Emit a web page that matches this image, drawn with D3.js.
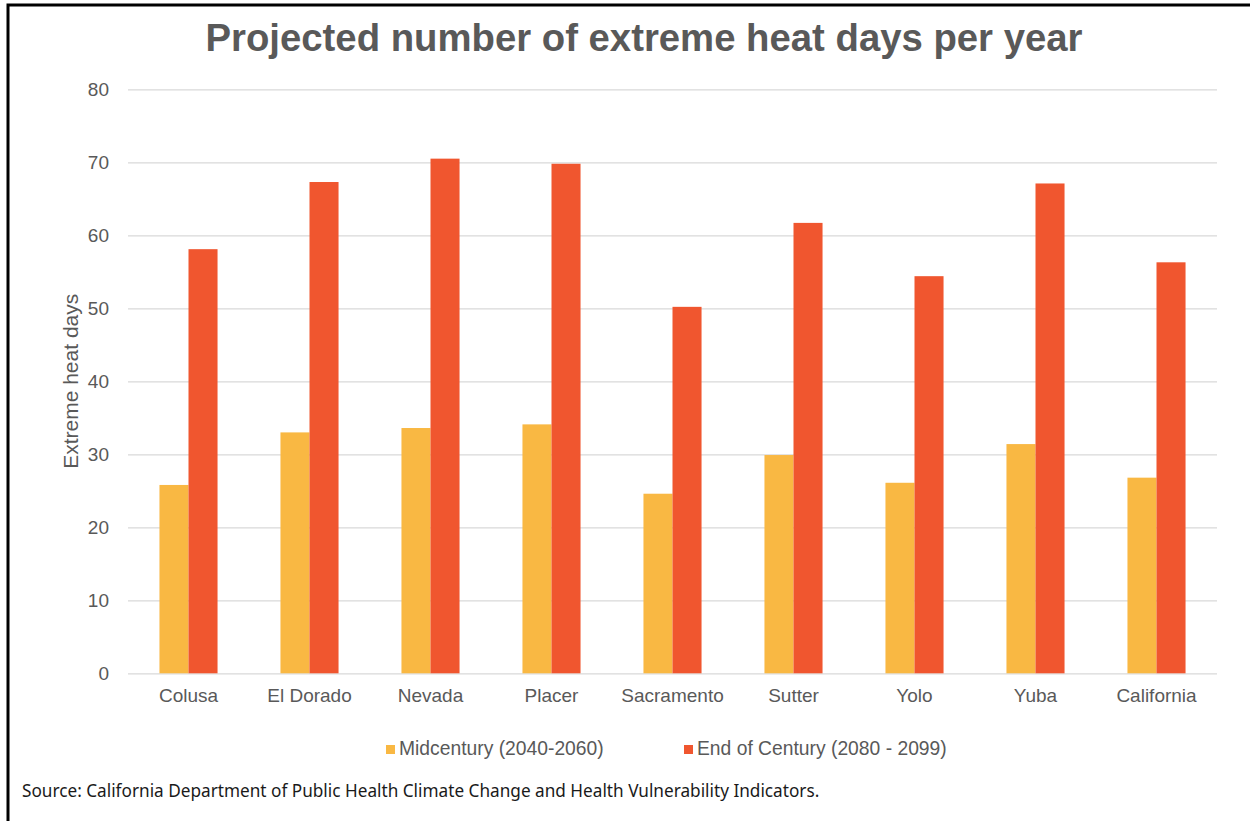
<!DOCTYPE html>
<html>
<head>
<meta charset="utf-8">
<script src="https://cdn.jsdelivr.net/npm/d3@7"></script>
<style>
  html, body { margin: 0; padding: 0; background: #ffffff; }
  svg { display: block; }
</style>
</head>
<body>
<svg id="chart" width="1250" height="821"></svg>
<script>
// Counties and projected extreme heat days
const categories = ["Colusa", "El Dorado", "Nevada", "Placer", "Sacramento", "Sutter", "Yolo", "Yuba", "California"];
const seriesNames = ["Midcentury (2040-2060)", "End of Century (2080 - 2099)"];
const midcentury = [25.8, 33.0, 33.6, 34.1, 24.6, 29.9, 26.1, 31.4, 26.8];
const endOfCentury = [58.1, 67.3, 70.5, 69.8, 50.2, 61.7, 54.4, 67.1, 56.3];
const yTicks = [0, 10, 20, 30, 40, 50, 60, 70, 80];
const colors = ["#F9B843", "#F0562F"];

const titleText = "Projected number of extreme heat days per year";
const yLabel = "Extreme heat days";
const sourceText = "Source: California Department of Public Health Climate Change and Health Vulnerability Indicators.";

const svg = d3.select("#chart");
const textGray = "#595959";
const sans = "'Liberation Sans', Arial, sans-serif";

const plot = { left: 128, right: 1217, top: 89.3, bottom: 673.3 };

const x = d3.scaleBand()
  .domain(categories)
  .range([plot.left, plot.right])
  .paddingInner(0.52)
  .paddingOuter(0.26);

const xInner = d3.scaleBand()
  .domain(seriesNames)
  .range([0, x.bandwidth()])
  .padding(0);

const y = d3.scaleLinear()
  .domain([0, 80])
  .range([plot.bottom, plot.top]);

// Frame lines on the top and left edges
svg.append("path")
  .attr("d", "M8,821V5H1250")
  .attr("fill", "none")
  .attr("stroke", "#000")
  .attr("stroke-width", 3);

// Title
svg.append("text")
  .attr("x", 644)
  .attr("y", 51)
  .attr("text-anchor", "middle")
  .attr("font-family", sans)
  .attr("font-weight", "bold")
  .attr("font-size", 38.3)
  .attr("fill", textGray)
  .text(titleText);

// Gridlines and y tick labels
const yAxis = d3.axisLeft(y)
  .tickValues(yTicks)
  .tickSize(-(plot.right - plot.left))
  .tickPadding(19)
  .tickFormat(d3.format("d"));

const gy = svg.append("g")
  .attr("transform", `translate(${plot.left},0)`)
  .call(yAxis);
gy.select(".domain").remove();
gy.selectAll(".tick line")
  .attr("stroke", "#d9d9d9")
  .attr("stroke-width", 1.3);
gy.selectAll(".tick text")
  .attr("font-family", sans)
  .attr("font-size", 19)
  .attr("fill", textGray);

// Bars
const rows = categories.map((c, i) => ({ category: c, values: [midcentury[i], endOfCentury[i]] }));

const groups = svg.append("g")
  .selectAll("g")
  .data(rows)
  .join("g")
  .attr("transform", d => `translate(${x(d.category)},0)`);

groups.selectAll("rect")
  .data(d => d.values.map((v, k) => ({ series: seriesNames[k], value: v, k })))
  .join("rect")
  .attr("x", d => xInner(d.series))
  .attr("width", xInner.bandwidth())
  .attr("y", d => y(d.value))
  .attr("height", d => y(0) - y(d.value))
  .attr("fill", d => colors[d.k]);

// Category labels
const xAxis = d3.axisBottom(x).tickSize(0).tickPadding(15);
const gx = svg.append("g")
  .attr("transform", `translate(0,${plot.bottom})`)
  .call(xAxis);
gx.select(".domain").remove();
gx.selectAll(".tick text")
  .attr("font-family", sans)
  .attr("font-size", 19)
  .attr("fill", textGray);

// Y axis title
svg.append("text")
  .attr("transform", `translate(78,${(plot.top + plot.bottom) / 2}) rotate(-90)`)
  .attr("text-anchor", "middle")
  .attr("font-family", sans)
  .attr("font-size", 21)
  .attr("fill", textGray)
  .text(yLabel);

// Legend
const legendItems = [
  { name: seriesNames[0], color: colors[0], x: 386 },
  { name: seriesNames[1], color: colors[1], x: 684 }
];
const legend = svg.append("g");
legendItems.forEach(item => {
  legend.append("rect")
    .attr("x", item.x)
    .attr("y", 745)
    .attr("width", 9)
    .attr("height", 9)
    .attr("fill", item.color);
  legend.append("text")
    .attr("x", item.x + 13)
    .attr("y", 755)
    .attr("font-family", sans)
    .attr("font-size", 19.3)
    .attr("fill", textGray)
    .text(item.name);
});

// Source note
svg.append("text")
  .attr("x", 22)
  .attr("y", 797)
  .attr("font-family", "'Noto Sans', 'Open Sans', sans-serif")
  .attr("font-size", 17.2)
  .attr("fill", "#1a1a1a")
  .text(sourceText);
</script>
</body>
</html>
